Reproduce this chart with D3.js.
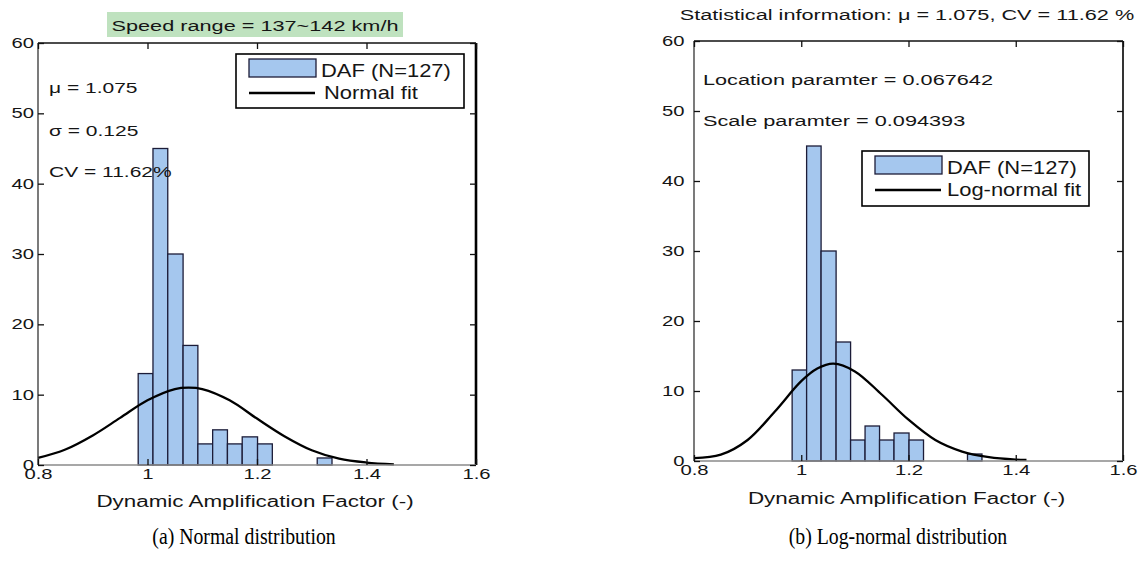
<!DOCTYPE html>
<html>
<head>
<meta charset="utf-8">
<script src="https://cdn.jsdelivr.net/npm/d3@7"></script>
<style>
  html, body { margin: 0; padding: 0; background: #fff; }
  svg { display: block; font-family: "Liberation Sans", Arial, sans-serif; }
</style>
</head>
<body>
<svg id="chart" width="1146" height="563"></svg>
<script>
// histogram of DAF, same bins in both panels
const binEdges = [0.983, 1.010, 1.037, 1.065, 1.092, 1.119, 1.146, 1.173, 1.201, 1.228, 1.255, 1.282, 1.310, 1.337];
const binCounts = [13, 45, 30, 17, 3, 5, 3, 4, 3, 0, 0, 0, 1];

// normal fit curve
const normalX = [0.80, 0.85, 0.90, 0.95, 1.00, 1.05, 1.075, 1.10, 1.15, 1.20, 1.25, 1.30, 1.35, 1.40, 1.45];
const normalY = [1.0, 2.2, 4.2, 6.7, 9.2, 10.8, 11.0, 10.8, 9.2, 6.6, 4.1, 2.1, 0.9, 0.35, 0.1];

// log-normal fit curve
const lognX = [0.80, 0.85, 0.90, 0.95, 1.00, 1.03, 1.06, 1.10, 1.15, 1.20, 1.25, 1.30, 1.35, 1.40, 1.42];
const lognY = [0.4, 0.9, 3.0, 7.0, 11.4, 13.2, 13.9, 12.8, 9.5, 5.9, 3.0, 1.35, 0.55, 0.2, 0.15];

const xTicks = [0.8, 1.0, 1.2, 1.4, 1.6];
const xTickLabels = ["0.8", "1", "1.2", "1.4", "1.6"];
const yTicks = [0, 10, 20, 30, 40, 50, 60];

const BAR = "#a5c7ee";
const EDGE = "#1c1c38";
const INK = "#151515";

const svg = d3.select("#chart");

// text in the source is stretched sideways, so widen via a scale
function label(g, x, y, str, size, anchor = "start", sx = 1.4) {
  return g.append("text")
    .attr("transform", `translate(${x},${y}) scale(${sx},1)`)
    .attr("font-size", size)
    .attr("text-anchor", anchor)
    .attr("fill", INK)
    .text(str);
}

function panel(o) {
  const x = d3.scaleLinear().domain([0.8, 1.6]).range([o.left, o.right]);
  const y = d3.scaleLinear().domain([0, 60]).range([o.bottom, o.top]);
  const g = svg.append("g");

  // bars
  g.append("g")
    .selectAll("rect")
    .data(binCounts)
    .join("rect")
    .attr("x", (d, i) => x(binEdges[i]))
    .attr("width", (d, i) => x(binEdges[i + 1]) - x(binEdges[i]))
    .attr("y", (d) => y(d))
    .attr("height", (d) => y(0) - y(d))
    .attr("fill", BAR)
    .attr("stroke", EDGE)
    .attr("stroke-width", 1.3);

  // fitted curve
  const pts = o.fitX.map((v, i) => [v, o.fitY[i]]);
  g.append("path")
    .datum(pts)
    .attr("fill", "none")
    .attr("stroke", "#000")
    .attr("stroke-width", 2.3)
    .attr("d", d3.line().x((d) => x(d[0])).y((d) => y(d[1])).curve(d3.curveCatmullRom));

  // box
  const line = (x1, y1, x2, y2, c, w) =>
    g.append("line").attr("x1", x1).attr("y1", y1).attr("x2", x2).attr("y2", y2)
      .attr("stroke", c).attr("stroke-width", w);
  line(o.left, o.top, o.right, o.top, "#111", 1.6);
  line(o.left, o.top, o.left, o.bottom, "#333", 1.3);
  line(o.right, o.top, o.right, o.bottom, "#000", o.rightW);
  line(o.left, o.bottom, o.right, o.bottom, "#8a8a8a", 1.6);

  // axes with inward ticks
  const xb = g.append("g").attr("transform", `translate(0,${o.bottom})`)
    .call(d3.axisBottom(x).tickValues(xTicks).tickFormat((d, i) => xTickLabels[i])
      .tickSize(-6).tickSizeOuter(0).tickPadding(3));
  const yl = g.append("g").attr("transform", `translate(${o.left},0)`)
    .call(d3.axisLeft(y).tickValues(yTicks).tickSize(-6).tickSizeOuter(0).tickPadding(o.yPad));
  const xt = g.append("g").attr("transform", `translate(0,${o.top})`)
    .call(d3.axisTop(x).tickValues(xTicks).tickFormat("").tickSize(-6).tickSizeOuter(0));
  const yr = g.append("g").attr("transform", `translate(${o.right},0)`)
    .call(d3.axisRight(y).tickValues(yTicks).tickFormat("").tickSize(-6).tickSizeOuter(0));
  [xb, yl, xt, yr].forEach((a) => {
    a.select(".domain").remove();
    a.selectAll("line").attr("stroke", "#111").attr("stroke-width", 1.3);
    a.attr("font-family", null);
    a.selectAll("text").attr("fill", INK).attr("font-size", 15).attr("transform", "scale(1.35,1)");
  });
  yl.selectAll("text").attr("dy", "0.3em");

  // x axis title
  label(g, (o.left + o.right) / 2 + o.xlabDx, o.xlabY, "Dynamic Amplification Factor (-)", 16, "middle");

  // legend
  const lg = g.append("g");
  lg.append("rect").attr("x", o.leg[0]).attr("y", o.leg[1]).attr("width", o.leg[2]).attr("height", o.leg[3])
    .attr("fill", "#fff").attr("stroke", "#000").attr("stroke-width", 1.6);
  const px = o.leg[0] + 13;
  lg.append("rect").attr("x", px).attr("y", o.leg[1] + 5).attr("width", 67).attr("height", 18)
    .attr("fill", BAR).attr("stroke", EDGE).attr("stroke-width", 1.3);
  lg.append("line").attr("x1", px).attr("x2", px + 66)
    .attr("y1", o.leg[1] + 39).attr("y2", o.leg[1] + 39)
    .attr("stroke", "#000").attr("stroke-width", 2.6);
  label(lg, px + 72, o.leg[1] + 23, "DAF (N=127)", 18, "start", 1.22);
  label(lg, px + 72 + o.fitDx, o.leg[1] + 45, o.fitName, 18, "start", 1.22);

  return g;
}

// (a) normal
const ga = panel({
  left: 38, right: 476, top: 43, bottom: 465, rightW: 2.6, yPad: 3,
  fitX: normalX, fitY: normalY, xlabDx: -2, xlabY: 507,
  leg: [236, 54, 228, 54], fitName: "Normal fit", fitDx: 3
});
ga.append("rect").attr("x", 107).attr("y", 12).attr("width", 296).attr("height", 25).attr("fill", "#bfe2bf");
label(ga, 255, 31, "Speed range = 137~142 km/h", 15.5, "middle");
label(ga, 49, 93, "\u03bc = 1.075", 15);
label(ga, 49, 136, "\u03c3 = 0.125", 15);
label(ga, 49, 177, "CV = 11.62%", 15);

// (b) log-normal
const gb = panel({
  left: 694, right: 1123, top: 41, bottom: 461, rightW: 1.6, yPad: 7,
  fitX: lognX, fitY: lognY, xlabDx: -2, xlabY: 504,
  leg: [862, 151, 227, 55], fitName: "Log-normal fit", fitDx: 0
});
label(gb, 907, 20, "Statistical information: \u03bc = 1.075, CV = 11.62 %", 15.5, "middle");
label(gb, 703, 85, "Location paramter = 0.067642", 15.5);
label(gb, 703, 126, "Scale paramter = 0.094393", 15.5);

// captions (tall, slightly condensed serif)
const serif = "'Liberation Serif', 'Times New Roman', serif";
svg.append("text").attr("transform", "translate(244,544) scale(0.86,1)").attr("text-anchor", "middle")
  .attr("font-family", serif).attr("font-size", 23)
  .attr("fill", "#000").text("(a) Normal distribution");
svg.append("text").attr("transform", "translate(898,544) scale(0.86,1)").attr("text-anchor", "middle")
  .attr("font-family", serif).attr("font-size", 23)
  .attr("fill", "#000").text("(b) Log-normal distribution");
</script>
</body>
</html>
